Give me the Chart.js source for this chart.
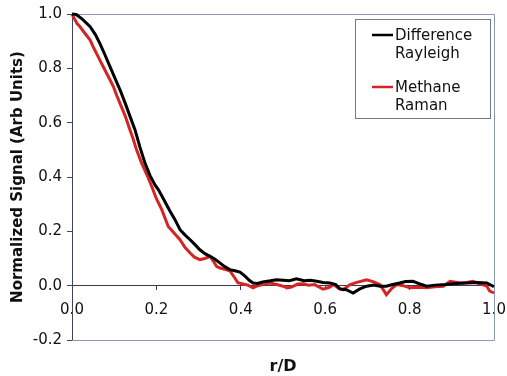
<!DOCTYPE html>
<html>
<head>
<meta charset="utf-8">
<script src="https://cdn.jsdelivr.net/npm/chart.js@4/dist/chart.umd.min.js"></script>
<style>
  body { margin: 0; background: #fff; }
</style>
</head>
<body>
<canvas id="profileChart" width="507" height="376"></canvas>
<script>
// --- data ---
const rayleighR = [0.0, 0.01, 0.025, 0.043, 0.055, 0.066, 0.078, 0.09, 0.102, 0.114, 0.126, 0.137, 0.149, 0.161, 0.173, 0.185, 0.197, 0.205, 0.22, 0.232, 0.244, 0.256, 0.268, 0.28, 0.292, 0.303, 0.315, 0.327, 0.339, 0.351, 0.362, 0.374, 0.386, 0.398, 0.41, 0.42, 0.429, 0.44, 0.452, 0.47, 0.485, 0.5, 0.515, 0.532, 0.55, 0.565, 0.58, 0.595, 0.611, 0.625, 0.635, 0.65, 0.666, 0.682, 0.698, 0.715, 0.73, 0.745, 0.76, 0.777, 0.79, 0.808, 0.825, 0.84, 0.86, 0.886, 0.91, 0.935, 0.96, 0.983, 1.0];
const rayleighSignal = [1.0, 0.998, 0.98, 0.953, 0.925, 0.892, 0.85, 0.806, 0.763, 0.72, 0.672, 0.625, 0.575, 0.51, 0.451, 0.405, 0.37, 0.353, 0.31, 0.275, 0.243, 0.206, 0.186, 0.169, 0.15, 0.132, 0.118, 0.108, 0.097, 0.083, 0.07, 0.059, 0.055, 0.05, 0.035, 0.02, 0.01, 0.008, 0.014, 0.018, 0.022, 0.02, 0.018, 0.025, 0.018, 0.02, 0.016, 0.012, 0.01, 0.004, -0.012, -0.015, -0.027, -0.012, -0.002, 0.002, -0.002, -0.002, 0.004, 0.01, 0.015, 0.016, 0.006, -0.002, 0.002, 0.004, 0.008, 0.01, 0.012, 0.01, -0.004];

const ramanR = [0.0, 0.005, 0.012, 0.019, 0.03, 0.043, 0.05, 0.058, 0.066, 0.074, 0.086, 0.098, 0.106, 0.114, 0.126, 0.137, 0.145, 0.153, 0.165, 0.177, 0.189, 0.2, 0.213, 0.228, 0.244, 0.256, 0.268, 0.28, 0.29, 0.303, 0.315, 0.327, 0.335, 0.343, 0.351, 0.362, 0.374, 0.385, 0.393, 0.405, 0.417, 0.429, 0.44, 0.452, 0.469, 0.485, 0.5, 0.51, 0.52, 0.535, 0.548, 0.56, 0.575, 0.595, 0.61, 0.62, 0.632, 0.642, 0.659, 0.675, 0.698, 0.715, 0.73, 0.745, 0.758, 0.77, 0.785, 0.8, 0.82, 0.84, 0.86, 0.88, 0.896, 0.92, 0.935, 0.95, 0.965, 0.983, 0.99, 1.0];
const ramanSignal = [1.0, 0.985, 0.965, 0.953, 0.93, 0.904, 0.88, 0.855, 0.83, 0.806, 0.77, 0.733, 0.7, 0.67, 0.625, 0.575, 0.54, 0.5, 0.451, 0.41, 0.365, 0.32, 0.279, 0.218, 0.19, 0.169, 0.14, 0.12, 0.105, 0.096, 0.1, 0.108, 0.09, 0.07, 0.065, 0.06, 0.055, 0.03, 0.011, 0.006, 0.002, -0.008, 0.0, 0.004, 0.01, 0.004, -0.002, -0.008, -0.005, 0.006, 0.007, 0.002, 0.004, -0.013, -0.006, 0.004, -0.01, -0.015, 0.004, 0.012, 0.022, 0.014, 0.004, -0.033, -0.01, 0.004, 0.0, -0.008, -0.006, -0.008, -0.004, -0.002, 0.016, 0.01, 0.012, 0.016, 0.008, -0.002, -0.02, -0.027];

const seriesLabels = [["Difference", "Rayleigh"], ["Methane", "Raman"]];
const seriesColors = ["#000000", "#d42424"];
const xTitle = "r/D";
const yTitle = "Normalized Signal (Arb Units)";

const FONT = "'DejaVu Sans', Verdana, sans-serif";

function toPoints(xs, ys) {
  return xs.map((x, i) => ({ x: x, y: ys[i] }));
}

function fmt(v) {
  return (Math.abs(v) < 1e-9 ? 0 : v).toFixed(1);
}

function noSidePadding(s) {
  s.paddingLeft = 0;
  s.paddingRight = 0;
}

// frame round the plot area + the boxed legend
const framePlugin = {
  id: "frame",
  beforeDatasetsDraw(chart) {
    const a = chart.chartArea;
    const ctx = chart.ctx;
    ctx.save();
    ctx.strokeStyle = "#8a9ab4";
    ctx.lineWidth = 1;
    ctx.beginPath();
    ctx.moveTo(a.left, a.top + 0.5);
    ctx.lineTo(a.right + 0.5, a.top + 0.5);
    ctx.lineTo(a.right + 0.5, a.bottom + 0.5);
    ctx.lineTo(a.left, a.bottom + 0.5);
    ctx.stroke();
    ctx.restore();
  },
  afterDatasetsDraw(chart) {
    const ctx = chart.ctx;
    ctx.save();
    ctx.fillStyle = "#fff";
    ctx.fillRect(355, 19, 136, 100);
    ctx.strokeStyle = "#707a88";
    ctx.lineWidth = 1;
    ctx.strokeRect(355.5, 19.5, 135, 99);
    ctx.font = "15px " + FONT;
    ctx.textBaseline = "middle";
    ctx.textAlign = "left";
    chart.data.datasets.forEach((ds, i) => {
      const y = 35 + i * 52;
      ctx.strokeStyle = ds.borderColor;
      ctx.lineWidth = 2.5;
      ctx.beginPath();
      ctx.moveTo(372, y);
      ctx.lineTo(393, y);
      ctx.stroke();
      ctx.fillStyle = "#111";
      ds.legendLines.forEach((t, j) => ctx.fillText(t, 395, y + 1 + j * 18));
    });
    ctx.restore();
  }
};

new Chart(document.getElementById("profileChart"), {
  type: "scatter",
  data: {
    datasets: [
      {
        label: seriesLabels[0].join(" "),
        legendLines: seriesLabels[0],
        data: toPoints(rayleighR, rayleighSignal),
        showLine: true,
        borderColor: seriesColors[0],
        borderWidth: 3,
        pointRadius: 0,
        tension: 0,
        clip: 4
      },
      {
        label: seriesLabels[1].join(" "),
        legendLines: seriesLabels[1],
        data: toPoints(ramanR, ramanSignal),
        showLine: true,
        borderColor: seriesColors[1],
        borderWidth: 3,
        pointRadius: 0,
        tension: 0,
        clip: 4
      }
    ]
  },
  options: {
    responsive: false,
    animation: false,
    layout: { padding: { top: 14, right: 13, left: 0, bottom: 0 } },
    plugins: {
      legend: { display: false },
      tooltip: { enabled: false }
    },
    scales: {
      x: {
        type: "linear",
        position: { y: 0 },
        min: 0, max: 1,
        ticks: {
          stepSize: 0.2,
          color: "#111",
          font: { family: FONT, size: 15 },
          padding: 11,
          maxRotation: 0,
          callback: fmt
        },
        grid: { drawOnChartArea: false, tickLength: 4, color: "#4a3452" },
        border: { color: "#4a3452", width: 1 },
        afterFit: noSidePadding
      },
      x2: {
        type: "linear",
        position: "bottom",
        min: 0, max: 1,
        ticks: { display: false },
        grid: { display: false, drawTicks: false },
        border: { display: false },
        title: {
          display: true,
          text: xTitle,
          color: "#111",
          font: { family: FONT, size: 16, weight: "bold" },
          padding: { top: 0, bottom: 0 }
        },
        afterFit: s => { s.height = 36; noSidePadding(s); }
      },
      y: {
        min: -0.2, max: 1.0,
        ticks: {
          stepSize: 0.2,
          color: "#111",
          font: { family: FONT, size: 15 },
          padding: 5,
          callback: fmt
        },
        grid: { drawOnChartArea: false, tickLength: 5, color: "#3c4658" },
        border: { color: "#3c4658", width: 1 },
        title: {
          display: true,
          text: yTitle,
          color: "#111",
          font: { family: FONT, size: 15, weight: "bold" },
          padding: { top: 9, bottom: 0 }
        },
        afterFit: s => { s.width = 72; }
      }
    }
  },
  plugins: [framePlugin]
});
</script>
</body>
</html>
